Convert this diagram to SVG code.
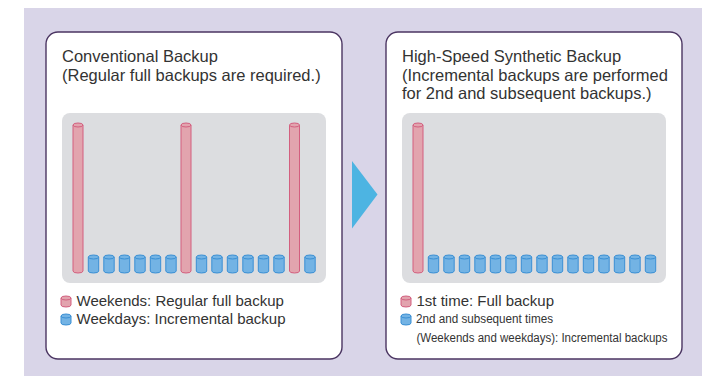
<svg xmlns="http://www.w3.org/2000/svg" xmlns:xlink="http://www.w3.org/1999/xlink" width="722" height="376" viewBox="0 0 722 376">
<style>
.bg{fill:#d9d5e8}
.box{fill:#ffffff;stroke:#4b3562;stroke-width:1.4}
.panel{fill:#dcdde0}
.t{font-family:"Liberation Sans",Arial,sans-serif;fill:#333333}
.title{font-size:16.5px}
.leg{font-size:15px}
.legs{font-size:12.5px}
.red path,.red ellipse{fill:#e2a4ae;stroke:#d35f7f;stroke-width:1}
.blue path,.blue ellipse{fill:#73b3e4;stroke:#3a8fd4;stroke-width:1}
</style>
<defs>
<g id="cylB" class="blue"><path d="M-5.2,0 V14 A5.2,2 0 0 0 5.2,14 V0"/><ellipse cx="0" cy="0" rx="5.2" ry="2"/></g>
<g id="cylR" class="red"><path d="M-5,0 V146 A5,2 0 0 0 5,146 V0"/><ellipse cx="0" cy="0" rx="5" ry="2"/></g>
<g id="icR" class="red"><path d="M-5,0 V7 A5,2 0 0 0 5,7 V0"/><ellipse cx="0" cy="0" rx="5" ry="2"/></g>
<g id="icB" class="blue"><path d="M-5,0 V7 A5,2 0 0 0 5,7 V0"/><ellipse cx="0" cy="0" rx="5" ry="2"/></g>
</defs>
<rect class="bg" x="24" y="8" width="678" height="368"/>

<g id="conventional">
<rect class="box" x="46" y="32" width="296" height="327" rx="12"/>
<text class="t title" x="62" y="62">Conventional Backup</text>
<text class="t title" x="62" y="80.5">(Regular full backups are required.)</text>
<rect class="panel" x="62" y="113" width="264" height="170" rx="8"/>
<use xlink:href="#cylR" x="78" y="125"/>
<use xlink:href="#cylB" x="93.5" y="257"/>
<use xlink:href="#cylB" x="109" y="257"/>
<use xlink:href="#cylB" x="124.5" y="257"/>
<use xlink:href="#cylB" x="140" y="257"/>
<use xlink:href="#cylB" x="155.5" y="257"/>
<use xlink:href="#cylB" x="171" y="257"/>
<use xlink:href="#cylR" x="186" y="125"/>
<use xlink:href="#cylB" x="201.5" y="257"/>
<use xlink:href="#cylB" x="217" y="257"/>
<use xlink:href="#cylB" x="232.5" y="257"/>
<use xlink:href="#cylB" x="248" y="257"/>
<use xlink:href="#cylB" x="263.5" y="257"/>
<use xlink:href="#cylB" x="279" y="257"/>
<use xlink:href="#cylR" x="294.5" y="125"/>
<use xlink:href="#cylB" x="310" y="257"/>
<use xlink:href="#icR" x="66" y="298"/>
<text class="t leg" x="76.5" y="305.5">Weekends: Regular full backup</text>
<use xlink:href="#icB" x="66" y="316"/>
<text class="t leg" x="76.5" y="323.5">Weekdays: Incremental backup</text>
</g>

<g id="connectors">
<polygon points="352,161 377.5,194.5 352,228.5" fill="#4db4e2"/>
</g>

<g id="synthetic">
<rect class="box" x="386" y="32" width="296" height="327" rx="12"/>
<text class="t title" x="402" y="62">High-Speed Synthetic Backup</text>
<text class="t title" x="402" y="80.5">(Incremental backups are performed</text>
<text class="t title" x="402" y="99">for 2nd and subsequent backups.)</text>
<rect class="panel" x="402" y="113" width="264" height="170" rx="8"/>
<use xlink:href="#cylR" x="418" y="125"/>
<use xlink:href="#cylB" x="433.5" y="257"/>
<use xlink:href="#cylB" x="449" y="257"/>
<use xlink:href="#cylB" x="464.5" y="257"/>
<use xlink:href="#cylB" x="480" y="257"/>
<use xlink:href="#cylB" x="495.5" y="257"/>
<use xlink:href="#cylB" x="511" y="257"/>
<use xlink:href="#cylB" x="526.5" y="257"/>
<use xlink:href="#cylB" x="542" y="257"/>
<use xlink:href="#cylB" x="557.5" y="257"/>
<use xlink:href="#cylB" x="573" y="257"/>
<use xlink:href="#cylB" x="588.5" y="257"/>
<use xlink:href="#cylB" x="604" y="257"/>
<use xlink:href="#cylB" x="619.5" y="257"/>
<use xlink:href="#cylB" x="635" y="257"/>
<use xlink:href="#cylB" x="650.5" y="257"/>
<use xlink:href="#icR" x="406" y="298"/>
<text class="t leg" x="416.5" y="305.5">1st time: Full backup</text>
<use xlink:href="#icB" x="406" y="316"/>
<text class="t legs" x="416" y="323" textLength="137" lengthAdjust="spacingAndGlyphs">2nd and subsequent times</text>
<text class="t legs" x="416.5" y="341.5" textLength="251" lengthAdjust="spacingAndGlyphs">(Weekends and weekdays): Incremental backups</text>
</g>
</svg>
